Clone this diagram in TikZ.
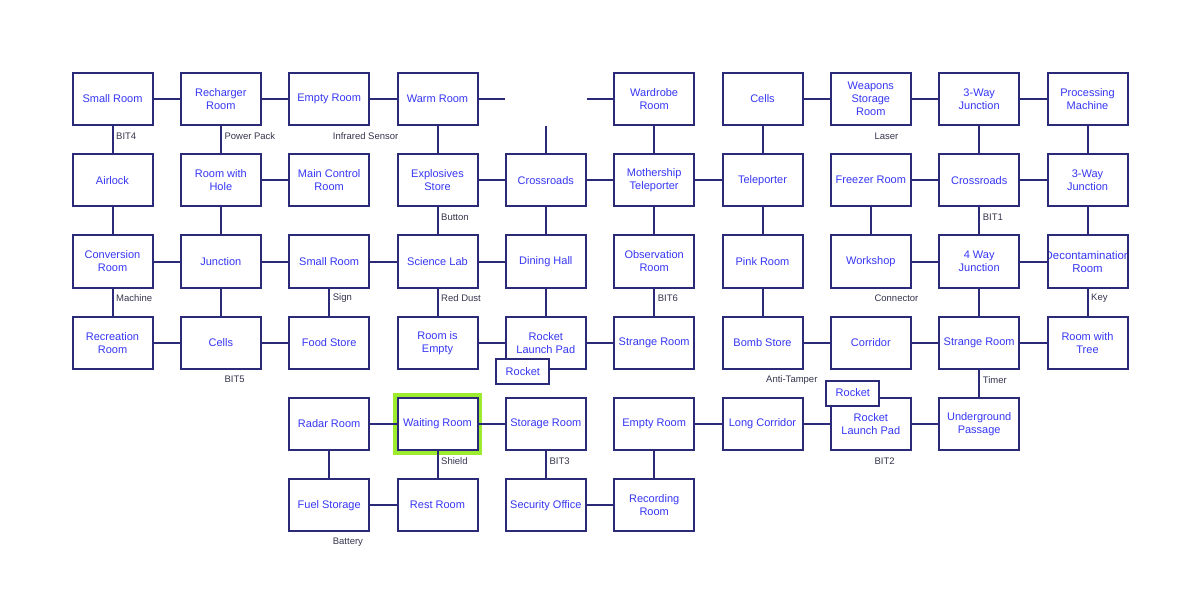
\documentclass[tikz,border=0pt]{standalone}
\usepackage{fontspec}
\setmainfont{Liberation Sans}
\usepackage{tikz}
\usetikzlibrary{positioning,calc}
\definecolor{mline}{HTML}{2A2A78}
\definecolor{mtext}{HTML}{3636F6}
\definecolor{mtag}{HTML}{34344C}
\definecolor{mlime}{HTML}{9CEB2E}

\begin{document}
\begin{tikzpicture}[x=108.333pt,y=-81.25pt,
  room/.style={draw=mline,line width=2pt,fill=white,minimum width=80pt,minimum height=52pt,
    inner sep=1pt,align=center,text=mtext,font=\fontsize{11}{13}\selectfont},
  rocketbox/.style={room,minimum width=53pt,minimum height=25pt},
  tag/.style={anchor=west,inner sep=0pt,text=mtag,font=\fontsize{9.5}{11}\selectfont},
  link/.style={draw=mline,line width=2pt}]
  \useasboundingbox (-1.03846,-1.21846) rectangle (10.03846,6.21538);

  % row 0
  \node[room] (smallroom) at (0,0) {Small Room};
  \node[room] (recharger) at (1,0) {Recharger\\Room};
  \node[room] (emptyroom) at (2,0) {Empty Room};
  \node[room] (warm) at (3,0) {Warm Room};
  \node[room,draw=none,fill=none] (gap) at (4,0) {};
  \node[room] (wardrobe) at (5,0) {Wardrobe\\Room};
  \node[room] (cellsB) at (6,0) {Cells};
  \node[room] (weapons) at (7,0) {Weapons\\Storage\\Room};
  \node[room] (threewayA) at (8,0) {3-Way\\Junction};
  \node[room] (processing) at (9,0) {Processing\\Machine};

  % row 1
  \node[room] (airlock) at (0,1) {Airlock};
  \node[room] (hole) at (1,1) {Room with\\Hole};
  \node[room] (control) at (2,1) {Main Control\\Room};
  \node[room] (explosives) at (3,1) {Explosives\\Store};
  \node[room] (crossA) at (4,1) {Crossroads};
  \node[room] (mothership) at (5,1) {Mothership\\Teleporter};
  \node[room] (teleporter) at (6,1) {Teleporter};
  \node[room] (freezer) at (7,1) {Freezer Room};
  \node[room] (crossB) at (8,1) {Crossroads};
  \node[room] (threewayB) at (9,1) {3-Way\\Junction};

  % row 2
  \node[room] (conversion) at (0,2) {Conversion\\Room};
  \node[room] (junction) at (1,2) {Junction};
  \node[room] (smallroomB) at (2,2) {Small Room};
  \node[room] (science) at (3,2) {Science Lab};
  \node[room] (dining) at (4,2) {Dining Hall};
  \node[room] (observation) at (5,2) {Observation\\Room};
  \node[room] (pink) at (6,2) {Pink Room};
  \node[room] (workshop) at (7,2) {Workshop};
  \node[room] (fourway) at (8,2) {4 Way\\Junction};
  \node[room,path picture={\node[text=mtext,align=center,font=\fontsize{11.4}{13}\selectfont]
    (decontext) at (path picture bounding box.center) {Decontamination\\Room};}] (decon) at (9,2) {};

  % row 3
  \node[room] (recreation) at (0,3) {Recreation\\Room};
  \node[room] (cellsA) at (1,3) {Cells};
  \node[room] (food) at (2,3) {Food Store};
  \node[room] (roomempty) at (3,3) {Room is\\Empty};
  \node[room] (padA) at (4,3) {Rocket\\Launch Pad};
  \node[room] (strangeA) at (5,3) {Strange Room};
  \node[room] (bomb) at (6,3) {Bomb Store};
  \node[room] (corridor) at (7,3) {Corridor};
  \node[room] (strangeB) at (8,3) {Strange Room};
  \node[room] (tree) at (9,3) {Room with\\Tree};

  % row 4 and 5
  \node[room] (radar) at (2,4) {Radar Room};
  \node[room] (waiting) at (3,4) {Waiting Room};
  \node[room] (storage) at (4,4) {Storage Room};
  \node[room] (emptyroomB) at (5,4) {Empty Room};
  \node[room] (longcorr) at (6,4) {Long Corridor};
  \node[room] (padB) at (7,4) {Rocket\\Launch Pad};
  \node[room] (underground) at (8,4) {Underground\\Passage};
  \node[room] (fuel) at (2,5) {Fuel Storage};
  \node[room] (rest) at (3,5) {Rest Room};
  \node[room] (security) at (4,5) {Security Office};
  \node[room] (recording) at (5,5) {Recording\\Room};

  % rockets
  \node[rocketbox] (rocketA) at ([xshift=-23pt,yshift=-29pt]padA.center) {Rocket};
  \node[rocketbox] (rocketB) at ([xshift=-18pt,yshift=31pt]padB.center) {Rocket};

  % current room
  \draw[mlime,line width=3.6pt] ([shift={(-1.8pt,1.8pt)}]waiting.north west) rectangle ([shift={(1.8pt,-1.8pt)}]waiting.south east);

  % doors across
  \foreach \a/\b in {smallroom/recharger,recharger/emptyroom,emptyroom/warm,warm/gap,gap/wardrobe,
    cellsB/weapons,weapons/threewayA,threewayA/processing,hole/control,explosives/crossA,
    crossA/mothership,mothership/teleporter,freezer/crossB,crossB/threewayB,conversion/junction,
    junction/smallroomB,smallroomB/science,science/dining,workshop/fourway,fourway/decon,
    recreation/cellsA,cellsA/food,roomempty/padA,padA/strangeA,bomb/corridor,corridor/strangeB,
    strangeB/tree,radar/waiting,waiting/storage,emptyroomB/longcorr,longcorr/padB,padB/underground,
    fuel/rest,security/recording}
    \draw[link] (\a) -- (\b);

  % doors down
  \foreach \a/\b in {smallroom/airlock,recharger/hole,warm/explosives,gap/crossA,wardrobe/mothership,
    cellsB/teleporter,threewayA/crossB,processing/threewayB,airlock/conversion,hole/junction,
    explosives/science,crossA/dining,mothership/observation,teleporter/pink,freezer/workshop,
    crossB/fourway,threewayB/decon,conversion/recreation,junction/cellsA,smallroomB/food,
    science/roomempty,dining/padA,observation/strangeA,pink/bomb,fourway/strangeB,decon/tree,
    strangeB/underground,radar/fuel,waiting/rest,storage/security,emptyroomB/recording}
    \draw[link] (\a) -- (\b);

  % items
  \foreach \r/\t/\n in {smallroom/BIT4/tagA,recharger/Power Pack/tagB,emptyroom/Infrared Sensor/tagC,
    weapons/Laser/tagD,explosives/Button/tagE,crossB/BIT1/tagF,conversion/Machine/tagG,
    smallroomB/Sign/tagH,science/Red Dust/tagI,observation/BIT6/tagJ,workshop/Connector/tagK,
    decon/Key/tagL,cellsA/BIT5/tagM,bomb/Anti-Tamper/tagN,strangeB/Timer/tagO,waiting/Shield/tagP,
    storage/BIT3/tagQ,padB/BIT2/tagR,fuel/Battery/tagS}
    \node[tag] (\n) at ([xshift=3.5pt,yshift=-10pt]\r.south) {\t};
\end{tikzpicture}
\end{document}
